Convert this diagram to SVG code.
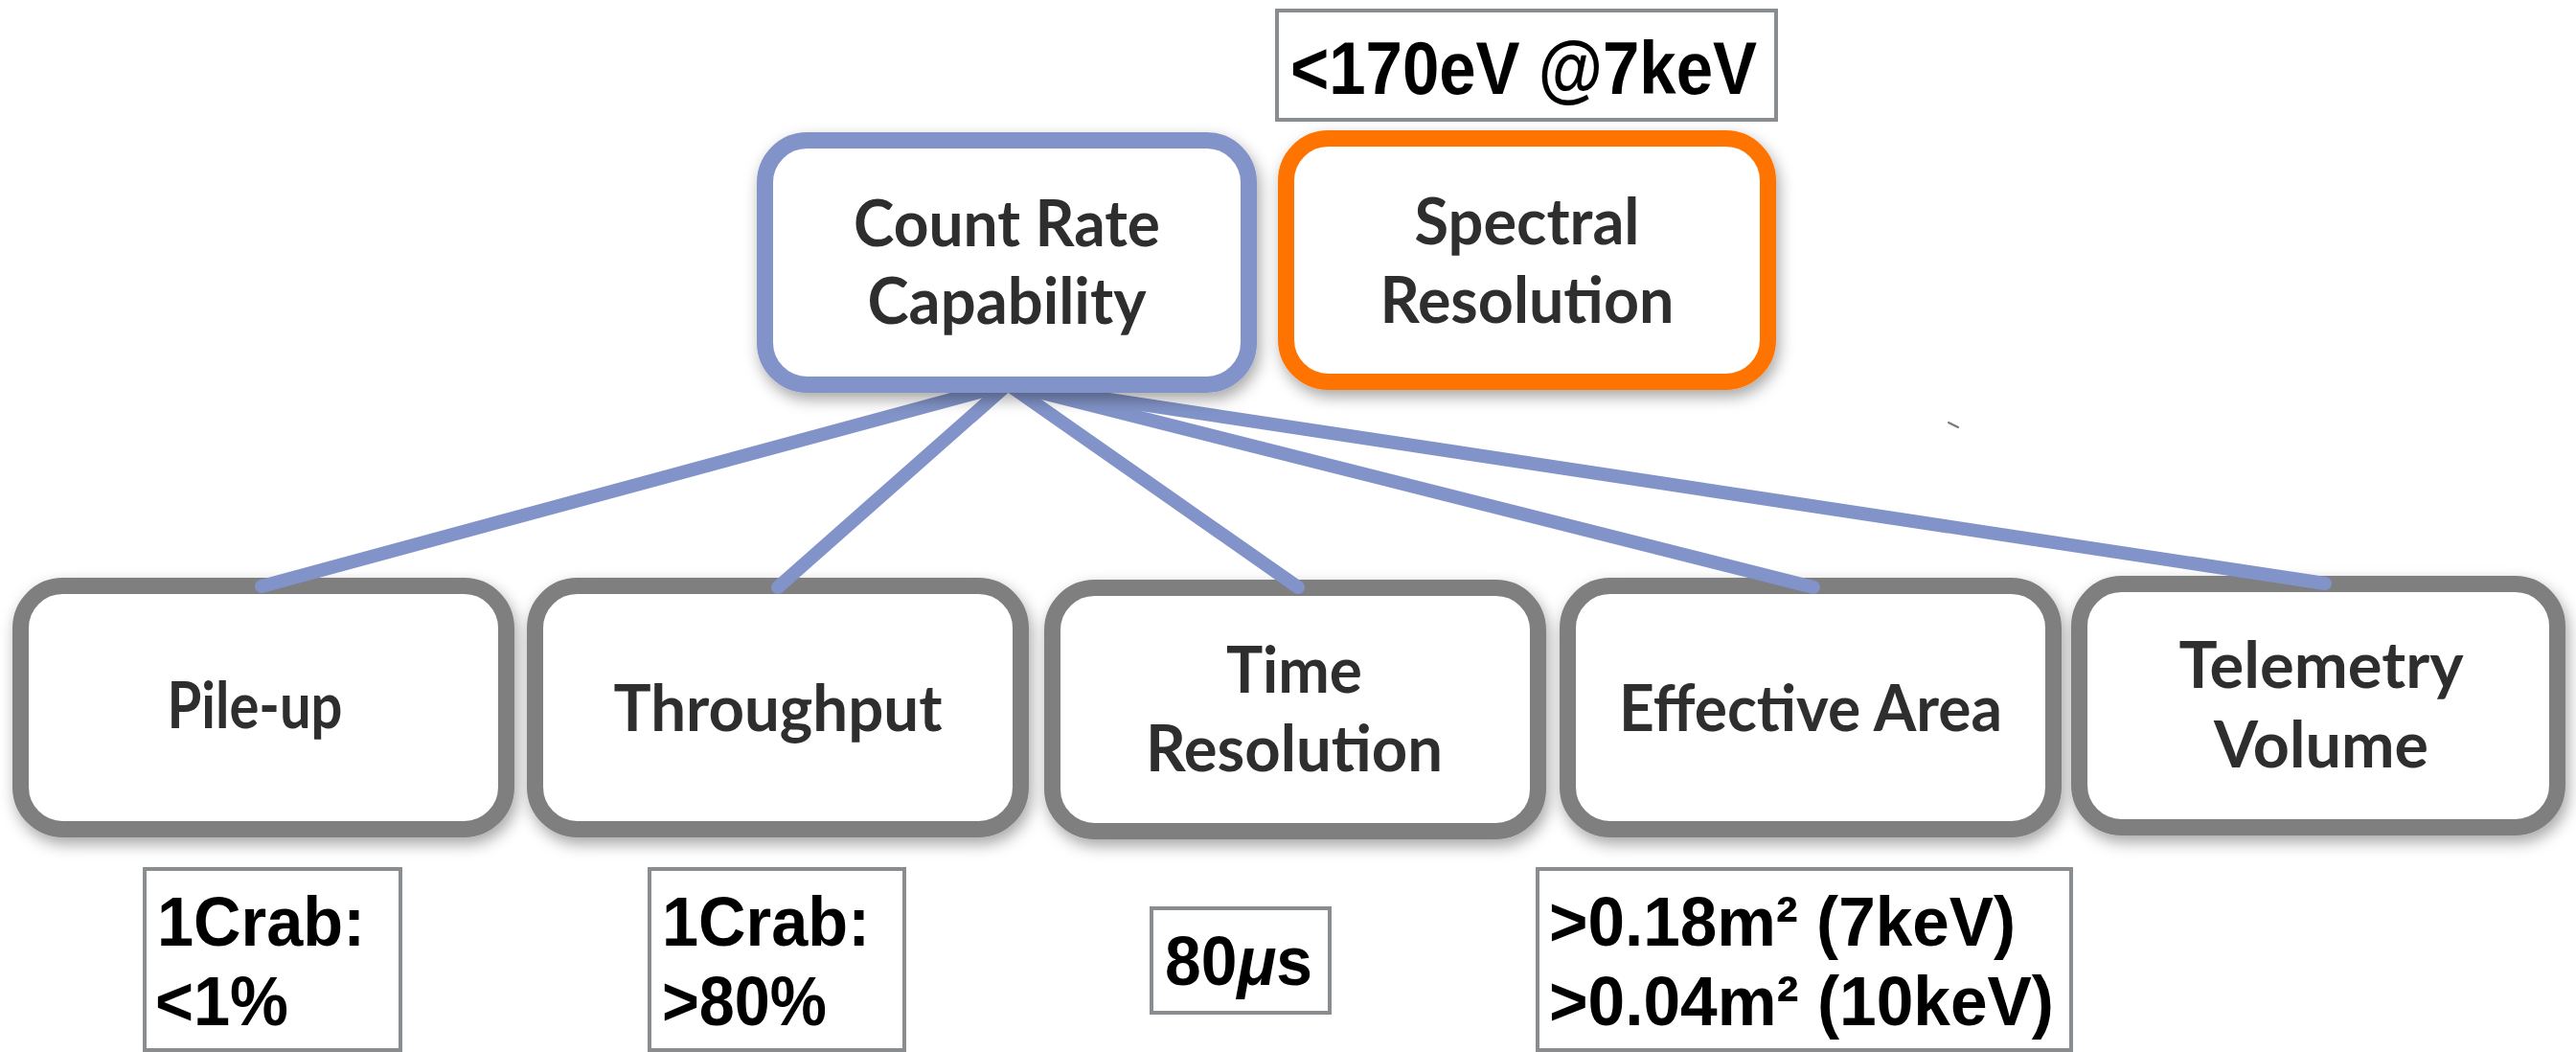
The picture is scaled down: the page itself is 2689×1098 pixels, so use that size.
<svg xmlns="http://www.w3.org/2000/svg" width="2689" height="1098" viewBox="0 0 2689 1098">
  <defs>
    <filter id="shadow" x="-10%" y="-10%" width="125%" height="130%">
      <feDropShadow dx="3" dy="7" stdDeviation="8" flood-color="#000" flood-opacity="0.35"/>
    </filter>
  </defs>
  <style>
    .node { fill: #ffffff; stroke-width: 17; }
    .grey { stroke: #7f7f7f; }
    .blue { stroke: #8193c8; }
    .orange { stroke: #ff7300; }
    .ntext { font-family: Lato, "Open Sans", "Liberation Sans", sans-serif; font-weight: bold; font-size: 66px; fill: #2f2f2f; text-anchor: middle; }
    .lbox { fill: #ffffff; stroke: #8a8d90; stroke-width: 4; }
    .ltext { font-family: "Liberation Sans", Arial, sans-serif; font-weight: bold; fill: #000000; }
    .link { stroke: #8193c8; stroke-width: 14; stroke-linecap: round; fill: none; }
  </style>

  <rect width="2689" height="1098" fill="#ffffff"/>

  <!-- lower row of nodes -->
  <g id="pile-up" filter="url(#shadow)">
    <rect class="node grey" x="21.5" y="611.5" width="507" height="254" rx="44" ry="44"/>
    <text class="ntext" x="266" y="760" textLength="183" lengthAdjust="spacingAndGlyphs">Pile-up</text>
  </g>
  <g id="throughput" filter="url(#shadow)">
    <rect class="node grey" x="558.5" y="611.5" width="507" height="254" rx="44" ry="44"/>
    <text class="ntext" x="812" y="763" textLength="343" lengthAdjust="spacingAndGlyphs">Throughput</text>
  </g>
  <g id="time-resolution" filter="url(#shadow)">
    <rect class="node grey" x="1098.5" y="613.5" width="507" height="254" rx="44" ry="44"/>
    <text class="ntext" x="1351" y="723" textLength="142" lengthAdjust="spacingAndGlyphs">Time</text>
    <text class="ntext" x="1351" y="805" textLength="310" lengthAdjust="spacingAndGlyphs">Resolution</text>
  </g>
  <g id="effective-area" filter="url(#shadow)">
    <rect class="node grey" x="1636.5" y="611.5" width="507" height="254" rx="44" ry="44"/>
    <text class="ntext" x="1890" y="763" textLength="400" lengthAdjust="spacingAndGlyphs">Effective Area</text>
  </g>
  <g id="telemetry-volume" filter="url(#shadow)">
    <rect class="node grey" x="2170.5" y="609.5" width="499" height="254" rx="44" ry="44"/>
    <text class="ntext" x="2423" y="718" textLength="297" lengthAdjust="spacingAndGlyphs">Telemetry</text>
    <text class="ntext" x="2423" y="801" textLength="224" lengthAdjust="spacingAndGlyphs">Volume</text>
  </g>

  <!-- connectors from Count Rate Capability -->
  <g id="connectors">
    <line class="link" x1="1052" y1="401" x2="273" y2="612"/>
    <line class="link" x1="1052" y1="401" x2="812" y2="613"/>
    <line class="link" x1="1052" y1="401" x2="1355" y2="613"/>
    <line class="link" x1="1052" y1="401" x2="1893" y2="613"/>
    <line class="link" x1="1052" y1="401" x2="2427" y2="609"/>
  </g>

  <!-- upper row of nodes -->
  <g id="count-rate" filter="url(#shadow)">
    <rect class="node blue" x="798.5" y="146.5" width="505" height="255" rx="44" ry="44"/>
    <text class="ntext" x="1051" y="257" textLength="320" lengthAdjust="spacingAndGlyphs">Count Rate</text>
    <text class="ntext" x="1051" y="338" textLength="291" lengthAdjust="spacingAndGlyphs">Capability</text>
  </g>
  <g id="spectral-resolution" filter="url(#shadow)">
    <rect class="node orange" x="1342.5" y="144.5" width="503" height="254" rx="44" ry="44"/>
    <text class="ntext" x="1594" y="255" textLength="235" lengthAdjust="spacingAndGlyphs">Spectral</text>
    <text class="ntext" x="1594" y="337" textLength="307" lengthAdjust="spacingAndGlyphs">Resolution</text>
  </g>

  <!-- requirement labels -->
  <g id="req-spectral">
    <rect class="lbox" x="1333" y="11" width="521" height="114"/>
    <text class="ltext" x="1347" y="98" font-size="78" textLength="487" lengthAdjust="spacingAndGlyphs">&lt;170eV @7keV</text>
  </g>
  <g id="req-pileup">
    <rect class="lbox" x="151" y="907" width="267" height="189"/>
    <text class="ltext" x="164" y="987" font-size="72" textLength="217" lengthAdjust="spacingAndGlyphs">1Crab:</text>
    <text class="ltext" x="162" y="1070" font-size="72" textLength="139" lengthAdjust="spacingAndGlyphs">&lt;1%</text>
  </g>
  <g id="req-throughput">
    <rect class="lbox" x="678" y="907" width="266" height="189"/>
    <text class="ltext" x="691" y="987" font-size="72" textLength="217" lengthAdjust="spacingAndGlyphs">1Crab:</text>
    <text class="ltext" x="691" y="1070" font-size="72" textLength="172" lengthAdjust="spacingAndGlyphs">&gt;80%</text>
  </g>
  <g id="req-time">
    <rect class="lbox" x="1202" y="948" width="186" height="109"/>
    <text class="ltext" x="1216" y="1028" font-size="72" textLength="154" lengthAdjust="spacingAndGlyphs">80<tspan font-style="italic">μ</tspan>s</text>
  </g>
  <g id="req-area">
    <rect class="lbox" x="1605" y="907" width="557" height="189"/>
    <text class="ltext" x="1617" y="987" font-size="72" textLength="487" lengthAdjust="spacingAndGlyphs">&gt;0.18m² (7keV)</text>
    <text class="ltext" x="1617" y="1070" font-size="72" textLength="527" lengthAdjust="spacingAndGlyphs">&gt;0.04m² (10keV)</text>
  </g>

  <!-- small stray stroke -->
  <line x1="2034" y1="441" x2="2044" y2="446" stroke="#777" stroke-width="2" stroke-linecap="round"/>
</svg>
